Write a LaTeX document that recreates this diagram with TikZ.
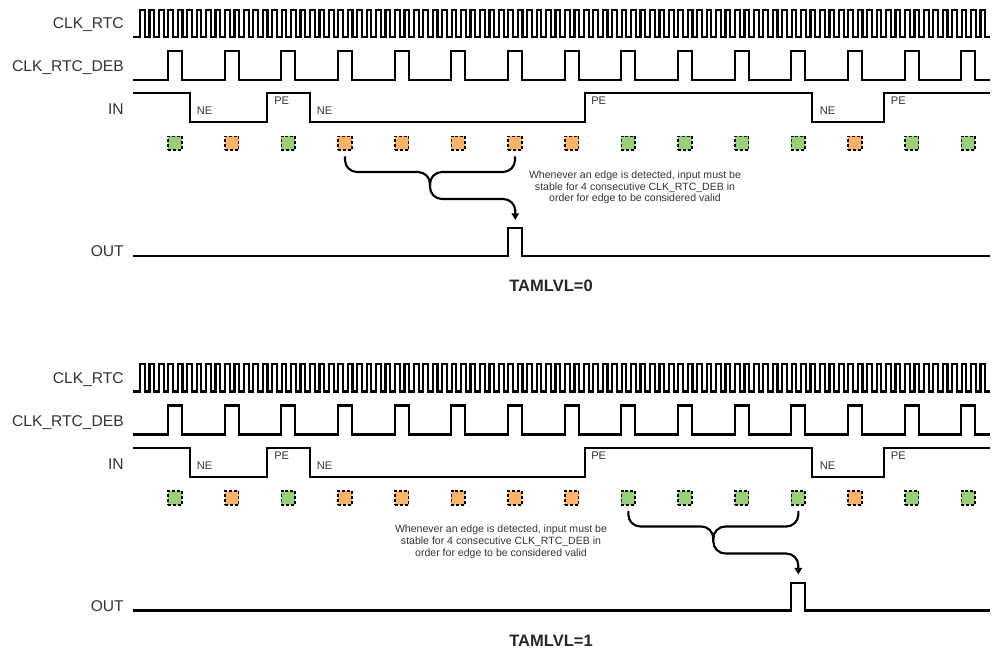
\documentclass[tikz,border=0pt]{standalone}
\usepackage{fontspec}
\setmainfont{Liberation Sans}
\usetikzlibrary{arrows.meta}
\definecolor{stab}{HTML}{97D077}
\definecolor{chg}{HTML}{FFB366}
\definecolor{txt}{HTML}{333333}

\begin{document}
\begin{tikzpicture}[
  x=0.75pt, y=-0.75pt,
  sig/.style={line width=1.6pt, line join=miter},
  lbl/.style={anchor=base east, inner sep=0pt, font=\fontsize{11.7pt}{13pt}\selectfont, text=txt},
  edg/.style={anchor=base west, inner sep=0pt, font=\fontsize{8.3pt}{10pt}\selectfont, text=txt},
  sq/.style={draw, dash pattern=on 2.3pt off 1.4pt, line width=1.2pt, minimum size=10.4pt, inner sep=0pt},
  note/.style={align=center, inner sep=0pt, font=\fontsize{7.9pt}{8.8pt}\selectfont, text=txt},
  lvl/.style={inner sep=0pt, font=\bfseries\fontsize{12.4pt}{14pt}\selectfont, text=black!85},
  brace/.style={line width=1.6pt, rounded corners=9pt}
]
\useasboundingbox (0,0) rectangle (992,652);
\foreach \s/\dy/\a/\b/\jx/\px/\nx/\lv in {t/0/4/7/430/508.3/635/0, b/354.5/9/12/713.3/791.3/501/1}{
\begin{scope}[shift={(0,\dy)}]
  \node[lbl] (\s clk) at (124,29) {CLK\_RTC};
  \node[lbl] (\s deb) at (124,72) {CLK\_RTC\_DEB};
  \node[lbl] (\s in) at (124,115) {IN};
  \node[lbl] (\s out) at (124,257) {OUT};

  \draw[sig] (133,37) \foreach \i in {0,...,89} {
    -- ({140+9.4444*\i},37) -- ++(0,-27.4) -- ++(4.722,0) -- ++(0,27.4)} -- (990,37);
  \draw[sig] (133,80) \foreach \k in {0,...,14} {
    -- ({168+56.667*\k},80) -- ++(0,-29) -- ++(14,0) -- ++(0,29)} -- (990,80);
  \draw[sig] (133,93.3) -- (190,93.3) -- (190,122.3) -- (266.7,122.3) -- (266.7,93.3)
    -- (310,93.3) -- (310,122.3) -- (585,122.3) -- (585,93.3) -- (812.3,93.3)
    -- (812.3,122.3) -- (884,122.3) -- (884,93.3) -- (990,93.3);
  \draw[sig] (133,256) -- (\px,256) -- ++(0,-27.7) -- ++(14,0) -- ++(0,27.7) -- (990,256);

  \node[edg] (\s ne1) at (196.7,114.5) {NE};
  \node[edg] (\s pe1) at (274,105) {PE};
  \node[edg] (\s ne2) at (316.7,114.5) {NE};
  \node[edg] (\s pe2) at (591,105) {PE};
  \node[edg] (\s ne3) at (819.5,114.5) {NE};
  \node[edg] (\s pe3) at (890.7,105) {PE};

  \foreach \c [count=\k] in {stab,chg,stab,chg,chg,chg,chg,chg,stab,stab,stab,stab,chg,stab,stab}
    \node[sq, fill=\c] (\s\k) at ({175+56.667*(\k-1)},143.3) {};

  \coordinate (\s-j) at (\jx,172);
  \coordinate (\s-bend) at ({\px+7},199);
  \coordinate (\s-hit) at ({\px+7},220);
  \draw[brace, shorten <=4pt, -{Triangle[length=5pt,width=5.5pt]}]
    (\s\a.south) |- (\s-j) |- (\s-bend) -- (\s-hit);
  \draw[brace, shorten <=4pt] (\s\b.south) |- (\s-j) -- ++(0,14);

  \node[note] (\s note) at (\nx,187.5) {Whenever an edge is detected, input must be\\
    stable for 4 consecutive CLK\_RTC\_DEB in\\ order for edge to be considered valid};
  \node[lvl] (\s lvl) at (551,286) {TAMLVL=\lv};
\end{scope}
}
\end{tikzpicture}
\end{document}
